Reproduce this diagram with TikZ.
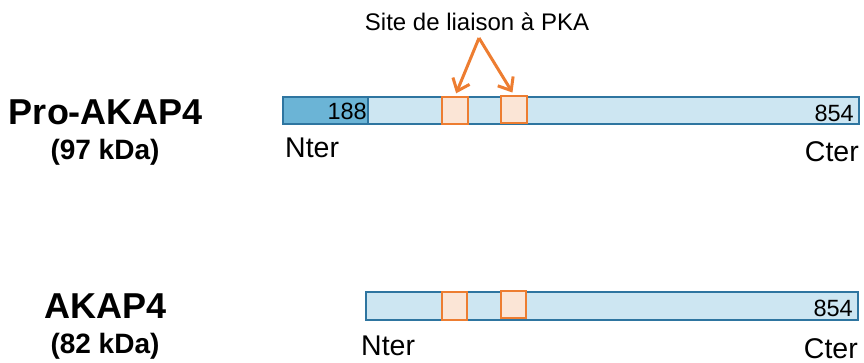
\documentclass[tikz,border=0pt]{standalone}
\usepackage{fontspec}
\setmainfont{Liberation Sans}
\usetikzlibrary{arrows.meta}
\definecolor{barfill}{RGB}{205,230,242}
\definecolor{barline}{RGB}{46,117,160}
\definecolor{darkfill}{RGB}{107,180,214}
\definecolor{siteline}{RGB}{237,125,49}
\definecolor{sitefill}{RGB}{251,229,214}
\tikzset{
  bar/.style={draw=barline, line width=1.3pt, fill=barfill, inner sep=0pt},
  darkbar/.style={draw=barline, line width=1.3pt, fill=darkfill, inner sep=0pt},
  site/.style={draw=siteline, line width=1.8pt, fill=sitefill, inner sep=0pt},
  siteArrow/.style={draw=siteline, line width=3pt, -{Straight Barb[length=11pt,width=18pt]}, shorten >=3pt},
  lbl/.style={inner sep=0pt, font=\fontsize{28.5}{28.5}\selectfont},
  num/.style={inner sep=0pt, font=\fontsize{23.5}{23.5}\selectfont},
  title/.style={inner sep=0pt, font=\fontsize{36}{36}\selectfont\bfseries},
  kda/.style={inner sep=0pt, font=\fontsize{28}{28}\selectfont\bfseries},
}
\begin{document}
\begin{tikzpicture}[x=1pt,y=-1pt]
\useasboundingbox (0,0) rectangle (864,363);
% Pro-AKAP4
\node[bar, minimum width=576pt, minimum height=27pt] (barP) at (571,110.5) {};
\node[darkbar, minimum width=85pt, minimum height=27pt] (darkP) at (325.5,110.5) {};
\node[site, minimum width=26pt, minimum height=27pt] (P1) at (455,110.5) {};
\node[site, minimum width=26pt, minimum height=27pt] (P2) at (514,109.5) {};
\node[num, anchor=base east] (n188) at (367,120) {188};
\node[num, anchor=base east] (n854a) at (854,122) {854};
% AKAP4
\node[bar, minimum width=492pt, minimum height=28pt] (barA) at (612,306) {};
\node[site, minimum width=25pt, minimum height=28pt] (A1) at (454.5,306) {};
\node[site, minimum width=25pt, minimum height=27pt] (A2) at (513.5,304.5) {};
\node[num, anchor=base east] (n854b) at (853,316) {854};
% site label and arrows
\node[inner sep=0pt, font=\fontsize{24}{24}\selectfont, anchor=base] (siteLbl) at (477,31) {Site de liaison à PKA};
\coordinate (apex) at (479,38);
\draw[siteArrow] (apex) -- (P1.north);
\draw[siteArrow] (apex) -- (P2.north);
% termini labels
\node[lbl, anchor=base west] (nterP) at (285,158) {Nter};
\node[lbl, anchor=base east] (cterP) at (859,162) {Cter};
\node[lbl, anchor=base west] (nterA) at (361,355) {Nter};
\node[lbl, anchor=base east] (cterA) at (858,358) {Cter};
% titles
\node[title, anchor=base] (tP) at (106,125) {Pro-AKAP4};
\node[kda, anchor=base] (kP) at (105,160) {(97 kDa)};
\node[title, anchor=base] (tA) at (106,318) {AKAP4};
\node[kda, anchor=base] (kA) at (105,353) {(82 kDa)};
\end{tikzpicture}
\end{document}
